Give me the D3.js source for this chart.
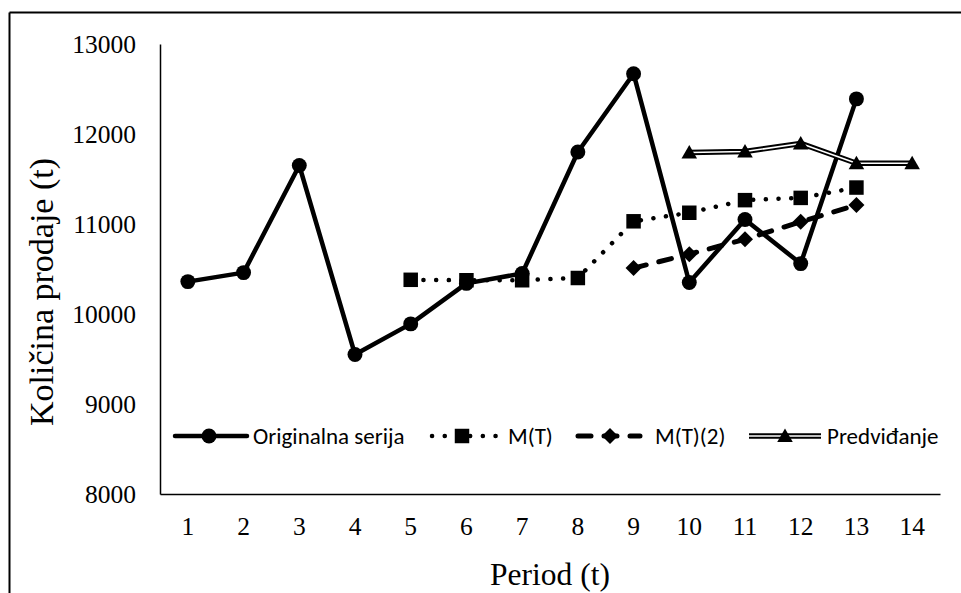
<!DOCTYPE html>
<html>
<head>
<meta charset="utf-8">
<script src="https://cdn.jsdelivr.net/npm/d3@7"></script>
<style>
  html, body { margin: 0; padding: 0; background: #fff; }
  svg { display: block; }
  .serif { font-family: "Liberation Serif", "Times New Roman", "DejaVu Serif", serif; }
  .sans { font-family: Carlito, Lato, "Open Sans", sans-serif; }
</style>
</head>
<body>
<svg id="chart" width="961" height="593"></svg>
<script>
// Periods and series values
const periods = [1, 2, 3, 4, 5, 6, 7, 8, 9, 10, 11, 12, 13, 14];
const originalna = [10360, 10460, 11650, 9550, 9890, 10340, 10450, 11800, 12670, 10350, 11050, 10560, 12390, null];
const mT = [null, null, null, null, 10380, 10375, 10375, 10400, 11030, 11125, 11265, 11290, 11405, null];
const mT2 = [null, null, null, null, null, null, null, null, 10510, 10665, 10830, 11025, 11210, null];
const predvidjanje = [null, null, null, null, null, null, null, null, null, 11795, 11805, 11895, 11675, 11675];
const yTicks = [8000, 9000, 10000, 11000, 12000, 13000];
const seriesNames = ["Originalna serija", "M(T)", "M(T)(2)", "Predviđanje"];

const svg = d3.select("#chart");
const W = 961, H = 593;
const plot = { left: 160, right: 940, top: 44, bottom: 494 };

// Outer frame (top and left edges)
svg.append("line").attr("x1", 9.5).attr("y1", 12.5).attr("x2", W).attr("y2", 12.5)
  .attr("stroke", "#000").attr("stroke-width", 2);
svg.append("line").attr("x1", 9.5).attr("y1", 12.5).attr("x2", 9.5).attr("y2", H)
  .attr("stroke", "#000").attr("stroke-width", 2);

const x = d3.scaleBand().domain(periods).range([plot.left, plot.right]);
const cx = p => x(p) + x.bandwidth() / 2;
const y = d3.scaleLinear().domain([8000, 13000]).range([plot.bottom, plot.top]);

// Axes
const yAxis = svg.append("g").attr("transform", `translate(${plot.left},0)`)
  .call(d3.axisLeft(y).tickValues(yTicks).tickSize(0).tickSizeOuter(0).tickPadding(24).tickFormat(d3.format("d")));
const xAxis = svg.append("g").attr("transform", `translate(0,${plot.bottom})`)
  .call(d3.axisBottom(x).tickSize(0).tickSizeOuter(0).tickPadding(23));
[yAxis, xAxis].forEach(g => {
  g.attr("font-family", null).attr("font-size", null);
  g.select(".domain").attr("stroke", "#000").attr("stroke-width", 1.5);
  g.selectAll("text").attr("class", "serif").style("font-size", "25.5px").attr("fill", "#000");
});

// Axis titles
svg.append("text").attr("class", "serif").attr("x", 550).attr("y", 585).attr("text-anchor", "middle")
  .style("font-size", "31.5px").text("Period (t)");
svg.append("text").attr("class", "serif").attr("transform", "translate(53,292) rotate(-90)")
  .attr("text-anchor", "middle").style("font-size", "34px").text("Količina prodaje (t)");

// Marker shapes
const diamond = s => `M0,${-s}L${s},0L0,${s}L${-s},0Z`;
const sym = {
  circle: () => d3.symbol(d3.symbolCircle, 175)(),
  square: () => d3.symbol(d3.symbolSquare, 210)(),
  diamond: () => diamond(8),
  triangle: () => d3.symbol(d3.symbolTriangle, 105)()
};

const series = [
  { name: seriesNames[0], values: originalna, marker: "circle", style: { width: 4.5, dash: null } },
  { name: seriesNames[1], values: mT, marker: "square", style: { width: 4.5, dash: "0.1 12.6", cap: "round" } },
  { name: seriesNames[2], values: mT2, marker: "diamond", style: { width: 5, dash: "13 13", cap: "round" } },
  { name: seriesNames[3], values: predvidjanje, marker: "triangle", style: { double: true } }
];

const line = d3.line().defined(d => d.v != null).x(d => cx(d.p)).y(d => y(d.v));

function drawStroke(g, pathD, st) {
  if (st.double) {
    g.append("path").attr("d", pathD).attr("fill", "none").attr("stroke", "#000")
      .attr("stroke-width", 5.5).attr("stroke-linejoin", "round");
    g.append("path").attr("d", pathD).attr("fill", "none").attr("stroke", "#fff")
      .attr("stroke-width", 1.6).attr("stroke-linejoin", "round");
  } else {
    g.append("path").attr("d", pathD).attr("fill", "none").attr("stroke", "#000")
      .attr("stroke-width", st.width).attr("stroke-linejoin", "round")
      .attr("stroke-linecap", st.cap || "round")
      .attr("stroke-dasharray", st.dash);
  }
}

series.forEach(s => {
  const pts = periods.map((p, i) => ({ p, v: s.values[i] }));
  const g = svg.append("g");
  drawStroke(g, line(pts), s.style);
  g.selectAll("path.m").data(pts.filter(d => d.v != null)).join("path").attr("class", "m")
    .attr("d", sym[s.marker]())
    .attr("transform", d => `translate(${cx(d.p)},${y(d.v) + (s.marker === "triangle" ? 1.5 : 0)})`)
    .attr("fill", "#000");
});

// Legend
const legendY = 436;
const legendLayout = [
  { x0: 175, x1: 247, mx: 209, tx: 253 },
  { x0: 432, x1: 500, mx: 462, tx: 508 },
  { x0: 578, x1: 640, mx: 610, tx: 655 },
  { x0: 749, x1: 821, mx: 785, tx: 827 }
];
series.forEach((s, i) => {
  const L = legendLayout[i];
  const g = svg.append("g");
  drawStroke(g, `M${L.x0},${legendY}H${L.x1}`, s.style);
  g.append("path").attr("d", sym[s.marker]())
    .attr("transform", `translate(${L.mx},${legendY + (s.marker === "triangle" ? 1.5 : 0)})`).attr("fill", "#000");
  g.append("text").attr("class", "sans").attr("x", L.tx).attr("y", legendY + 8)
    .style("font-size", "23px").attr("fill", "#000").text(s.name);
});
</script>
</body>
</html>
